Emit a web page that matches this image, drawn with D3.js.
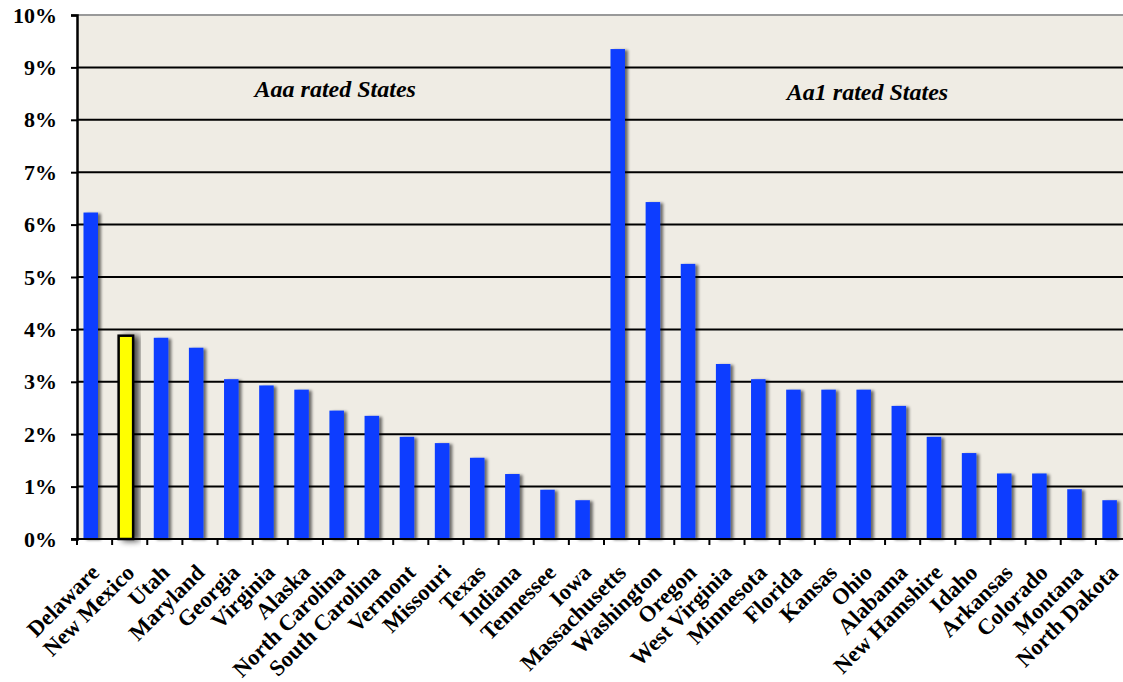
<!DOCTYPE html>
<html>
<head>
<meta charset="utf-8">
<script src="https://cdn.jsdelivr.net/npm/d3@7"></script>
<style>
  html, body { margin: 0; padding: 0; background: #ffffff; }
  svg { display: block; }
  text { font-family: "Liberation Serif", "Times New Roman", serif; font-weight: bold; }
</style>
</head>
<body>
<svg id="chart" width="1123" height="682"></svg>
<script>
// State names, grouped by rating (first 15 Aaa, remaining 15 Aa1)
const states = ["Delaware", "New Mexico", "Utah", "Maryland", "Georgia", "Virginia", "Alaska",
  "North Carolina", "South Carolina", "Vermont", "Missouri", "Texas", "Indiana", "Tennessee", "Iowa",
  "Massachusetts", "Washington", "Oregon", "West Virginia", "Minnesota", "Florida", "Kansas", "Ohio",
  "Alabama", "New Hamshire", "Idaho", "Arkansas", "Colorado", "Montana", "North Dakota"];

// Percentage values per state
const values = [6.23, 3.88, 3.84, 3.65, 3.05, 2.93, 2.85, 2.45, 2.35, 1.95, 1.83, 1.55, 1.24, 0.94, 0.74,
  9.35, 6.43, 5.25, 3.34, 3.05, 2.85, 2.85, 2.85, 2.54, 1.95, 1.64, 1.25, 1.25, 0.95, 0.74];

const highlighted = ["New Mexico"];

const yTicks = [0, 1, 2, 3, 4, 5, 6, 7, 8, 9, 10];

const groupLabels = ["Aaa rated States", "Aa1 rated States"];
// Annotation anchors: category the label is centred over (plus a fractional band shift) and its baseline value
const groupLabelAt = [{ state: "Alaska", shift: 0.85, v: 8.43 }, { state: "Ohio", shift: 0.0, v: 8.38 }];

const svg = d3.select("#chart");
const plotLeft = 77, plotRight = 1131, plotTop = 15, plotBottom = 539;

const x = d3.scaleBand().domain(states).range([plotLeft, plotRight]).paddingInner(0).paddingOuter(0);
const y = d3.scaleLinear().domain([0, 10]).range([plotBottom, plotTop]);

const defs = svg.append("defs");
const sh = defs.append("filter").attr("id", "shadow").attr("x", "-50%").attr("y", "-10%").attr("width", "200%").attr("height", "120%");
sh.append("feGaussianBlur").attr("in", "SourceAlpha").attr("stdDeviation", 1.8).attr("result", "b");
sh.append("feOffset").attr("in", "b").attr("dx", 3).attr("dy", 1).attr("result", "o");
sh.append("feComponentTransfer").attr("in", "o").attr("result", "s")
  .append("feFuncA").attr("type", "linear").attr("slope", 0.55);
const m = sh.append("feMerge");
m.append("feMergeNode").attr("in", "s");
m.append("feMergeNode").attr("in", "SourceGraphic");

const sh2 = defs.append("filter").attr("id", "shadowHi").attr("x", "-50%").attr("y", "-10%").attr("width", "200%").attr("height", "120%");
sh2.append("feGaussianBlur").attr("in", "SourceAlpha").attr("stdDeviation", 3).attr("result", "b");
sh2.append("feOffset").attr("in", "b").attr("dx", 5).attr("dy", 1).attr("result", "o");
sh2.append("feComponentTransfer").attr("in", "o").attr("result", "s")
  .append("feFuncA").attr("type", "linear").attr("slope", 0.7);
const m2 = sh2.append("feMerge");
m2.append("feMergeNode").attr("in", "s");
m2.append("feMergeNode").attr("in", "SourceGraphic");

// Plot background
svg.append("rect").attr("x", plotLeft).attr("y", plotTop).attr("width", plotRight - plotLeft).attr("height", plotBottom - plotTop)
  .attr("fill", "#efece4");

// Horizontal gridlines
svg.append("g").selectAll("line").data(yTicks.filter(t => t > 0))
  .join("line")
  .attr("x1", plotLeft).attr("x2", plotRight)
  .attr("y1", d => y(d)).attr("y2", d => y(d))
  .attr("stroke", d => d === 10 ? "#999999" : "#000")
  .attr("stroke-width", 2);

// Bars
svg.append("g").selectAll("rect").data(states)
  .join("rect")
  .attr("x", d => x(d) + 6.5)
  .attr("width", 14.5)
  .attr("y", (d, i) => y(values[i]))
  .attr("height", (d, i) => y(0) - y(values[i]))
  .attr("fill", d => highlighted.includes(d) ? "#ffff00" : "#0a3cff")
  .attr("stroke", d => highlighted.includes(d) ? "#000" : "none")
  .attr("stroke-width", 2.5)
  .attr("filter", d => highlighted.includes(d) ? "url(#shadowHi)" : "url(#shadow)");

// Y axis
const yAxis = d3.axisLeft(y).tickValues(yTicks).tickSize(6).tickPadding(14).tickFormat(d => d + "%");
const yg = svg.append("g").attr("transform", `translate(${plotLeft},0)`).call(yAxis);
yg.select(".domain").attr("stroke", "#000").attr("stroke-width", 2.5);
yg.selectAll(".tick line").attr("stroke", "#000").attr("stroke-width", 2);
yg.selectAll(".tick text").attr("font-size", 22).attr("fill", "#000")
  .attr("font-family", "Liberation Serif, Times New Roman, serif").attr("font-weight", "bold");

// X axis: ticks at band boundaries
const xg = svg.append("g").attr("transform", `translate(0,${plotBottom})`);
xg.append("line").attr("x1", plotLeft - 6).attr("x2", plotRight).attr("y1", 0).attr("y2", 0)
  .attr("stroke", "#000").attr("stroke-width", 2);
xg.selectAll("line.tk").data(states).join("line").attr("class", "tk")
  .attr("x1", d => x(d)).attr("x2", d => x(d)).attr("y1", 0).attr("y2", 6)
  .attr("stroke", "#000").attr("stroke-width", 2);

// Rotated category labels
xg.selectAll("text.lab").data(states).join("text").attr("class", "lab")
  .attr("transform", d => `translate(${x(d) + x.bandwidth() / 2 + 6},${35}) rotate(-45)`)
  .attr("text-anchor", "end")
  .attr("font-size", 22.5)
  .attr("fill", "#000")
  .text(d => d);

// Group annotations
svg.append("g").selectAll("text").data(groupLabels).join("text")
  .attr("x", (d, i) => x(groupLabelAt[i].state) + x.bandwidth() * (0.5 + groupLabelAt[i].shift))
  .attr("y", (d, i) => y(groupLabelAt[i].v))
  .attr("text-anchor", "middle")
  .attr("font-size", 24)
  .attr("font-style", "italic")
  .attr("fill", "#000")
  .text(d => d);
</script>
</body>
</html>
